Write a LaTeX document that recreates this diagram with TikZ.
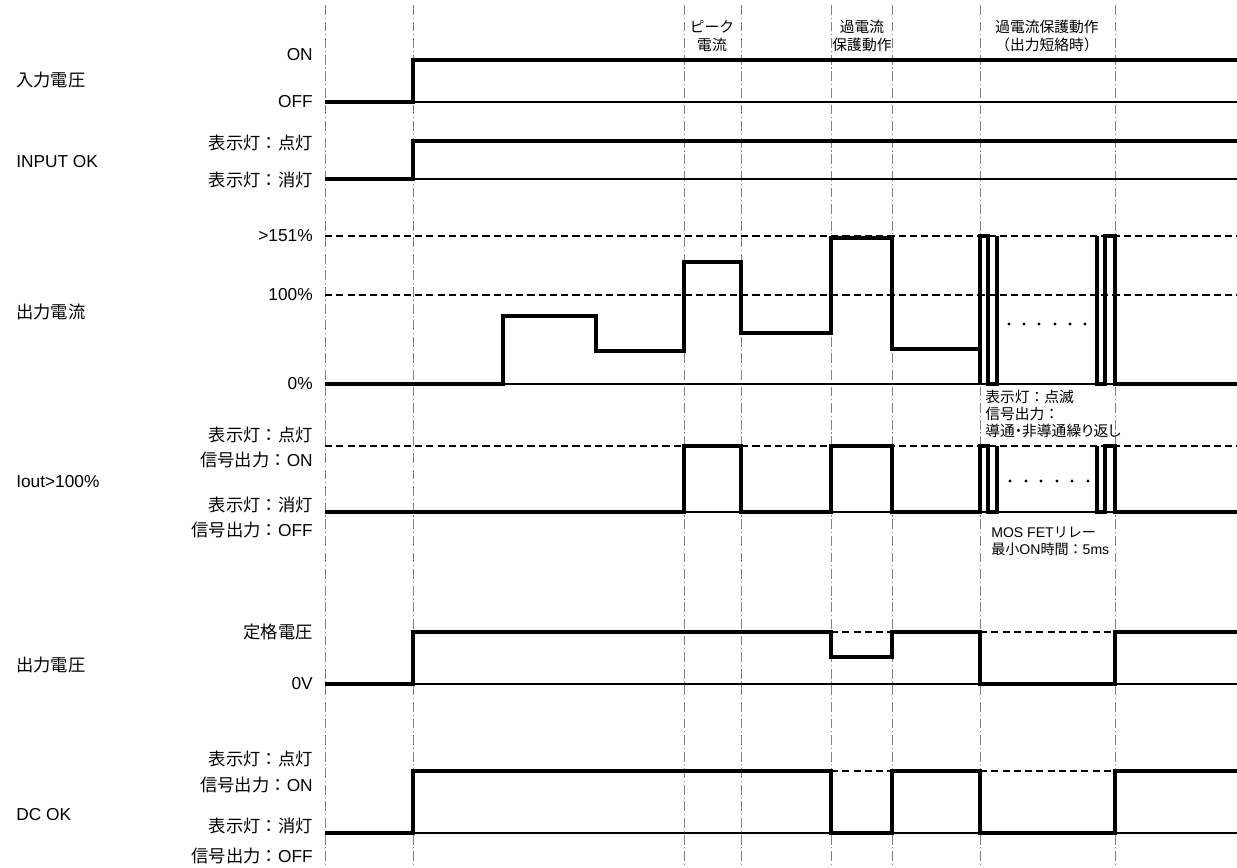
\documentclass[tikz,border=0pt]{standalone}
\usepackage{fontspec}
\setmainfont{Liberation Sans}
\newfontfamily\jp{Noto Sans CJK JP}
\newfontfamily\jpnarrow[RawFeature=+palt]{Noto Sans CJK JP}

\begin{document}
\begin{tikzpicture}[x=0.025cm,y=-0.025cm,
  wave/.style={line width=2.3pt,line join=miter},
  base/.style={line width=0.8pt},
  level/.style={line width=1.4pt,dash pattern=on 5pt off 3pt},
  guide/.style={line width=0.6pt,gray,dash pattern=on 7pt off 2pt on 0.8pt off 2pt},
  sig/.style={font=\fontsize{12.3}{14}\selectfont,anchor=west,inner sep=0pt},
  lvl/.style={font=\fontsize{12.3}{14}\selectfont,anchor=east,inner sep=0pt},
  note/.style={font=\fontsize{10.5}{13}\selectfont,inner sep=0pt,align=center},
  remark/.style={font=\fontsize{10.5}{12}\selectfont,anchor=west,inner sep=0pt,align=left}]
 \useasboundingbox (0,0) rectangle (1237,868);
%
 \draw[guide] (325,5) -- (325,868);
 \draw[guide] (413,5) -- (413,868);
 \draw[guide] (684,5) -- (684,868);
 \draw[guide] (741,5) -- (741,868);
 \draw[guide] (831,5) -- (831,868);
 \draw[guide] (892,5) -- (892,868);
 \draw[guide] (980,5) -- (980,868);
 \draw[guide] (1115,5) -- (1115,868);
%
 \node[note] (peak) at (712,36) {\jp ピーク\\\jp 電流};
 \node[note] (ocp) at (862,36) {\jp 過電流\\\jp 保護動作};
 \node[note] (short) at (1047,36) {\jp 過電流保護動作\\\jp （出力短絡時）};
%
 \draw[base] (325,102) -- (1237,102);
 \draw[base] (325,179) -- (1237,179);
 \draw[base] (325,384) -- (1237,384);
 \draw[base] (325,512) -- (1237,512);
 \draw[base] (325,684) -- (1237,684);
 \draw[base] (325,833) -- (1237,833);
 \draw[level] (325,236) -- (1237,236);
 \draw[level] (325,295) -- (1237,295);
 \draw[level] (325,446) -- (1237,446);
 \draw[level] (831,632) -- (892,632);
 \draw[level] (980,632) -- (1115,632);
 \draw[level] (831,771) -- (892,771);
 \draw[level] (980,771) -- (1115,771);
%
 \node[sig] (vin) at (16,80) {\jp 入力電圧};
 \node[lvl] (vinon) at (313,55) {ON};
 \node[lvl] (vinoff) at (313,102) {OFF};
 \draw[wave] (325,102) -- (413,102) -- (413,60) -- (1237,60);
%
 \node[sig] (inok) at (16,162) {INPUT OK};
 \node[lvl] (inokon) at (313,143) {\jp 表示灯：点灯};
 \node[lvl] (inokoff) at (313,180) {\jp 表示灯：消灯};
 \draw[wave] (325,179) -- (413,179) -- (413,141) -- (1237,141);
%
 \node[sig] (iout) at (16,312) {\jp 出力電流};
 \node[lvl] (imax) at (313,236) {>151\%};
 \node[lvl] (irated) at (313,295) {100\%};
 \node[lvl] (izero) at (313,384) {0\%};
 \draw[wave] (325,384) -- (503,384) -- (503,316) -- (596,316) -- (596,351)
   -- (684,351) -- (684,262) -- (741,262) -- (741,333) -- (831,333)
   -- (831,238) -- (892,238) -- (892,349) -- (980,349) -- (980,384)
   -- (980,236) -- (988,236) -- (988,384) -- (997,384) -- (997,236);
 \draw[wave] (1097,236) -- (1097,384) -- (1105,384) -- (1105,236)
   -- (1115,236) -- (1115,384) -- (1237,384);
 \fill (1009,324) circle (1.1pt) (1024,324) circle (1.1pt) (1039,324) circle (1.1pt)
   (1055,324) circle (1.1pt) (1070,324) circle (1.1pt) (1085,324) circle (1.1pt);
 \node[remark] (blink) at (985,414) {\jp 表示灯：点滅\\\jp 信号出力：\\\jpnarrow 導通・非導通繰り返し};
%
 \node[sig] (iover) at (16,482) {Iout>100\%};
 \node[lvl] (ioveron) at (313,435) {\jp 表示灯：点灯};
 \node[lvl] (ioveronb) at (313,460) {{\jp 信号出力：}ON};
 \node[lvl] (ioveroff) at (313,505) {\jp 表示灯：消灯};
 \node[lvl] (ioveroffb) at (313,530) {{\jp 信号出力：}OFF};
 \draw[wave] (325,512) -- (684,512) -- (684,446) -- (741,446) -- (741,512)
   -- (831,512) -- (831,446) -- (892,446) -- (892,512) -- (980,512)
   -- (980,446) -- (988,446) -- (988,512) -- (997,512) -- (997,446);
 \draw[wave] (1097,446) -- (1097,512) -- (1105,512) -- (1105,446)
   -- (1115,446) -- (1115,512) -- (1237,512);
 \fill (1010,481) circle (1.1pt) (1026,481) circle (1.1pt) (1041,481) circle (1.1pt)
   (1057,481) circle (1.1pt) (1072,481) circle (1.1pt) (1088,481) circle (1.1pt);
 \node[remark,font=\fontsize{10}{12}\selectfont] (mosfet) at (991,541) {MOS FET{\jp リレー}\\{\jp 最小}ON{\jp 時間：}5ms};
%
 \node[sig] (vout) at (16,665) {\jp 出力電圧};
 \node[lvl] (vrated) at (313,632) {\jp 定格電圧};
 \node[lvl] (vzero) at (313,684) {0V};
 \draw[wave] (325,684) -- (413,684) -- (413,632) -- (831,632) -- (831,657)
   -- (892,657) -- (892,632) -- (980,632) -- (980,684) -- (1115,684)
   -- (1115,632) -- (1237,632);
%
 \node[sig] (dcok) at (16,815) {DC OK};
 \node[lvl] (dcokon) at (313,759) {\jp 表示灯：点灯};
 \node[lvl] (dcokonb) at (313,785) {{\jp 信号出力：}ON};
 \node[lvl] (dcokoff) at (313,826) {\jp 表示灯：消灯};
 \node[lvl] (dcokoffb) at (313,856) {{\jp 信号出力：}OFF};
 \draw[wave] (325,833) -- (413,833) -- (413,771) -- (831,771) -- (831,833)
   -- (892,833) -- (892,771) -- (980,771) -- (980,833) -- (1115,833)
   -- (1115,771) -- (1237,771);
\end{tikzpicture}
\end{document}
